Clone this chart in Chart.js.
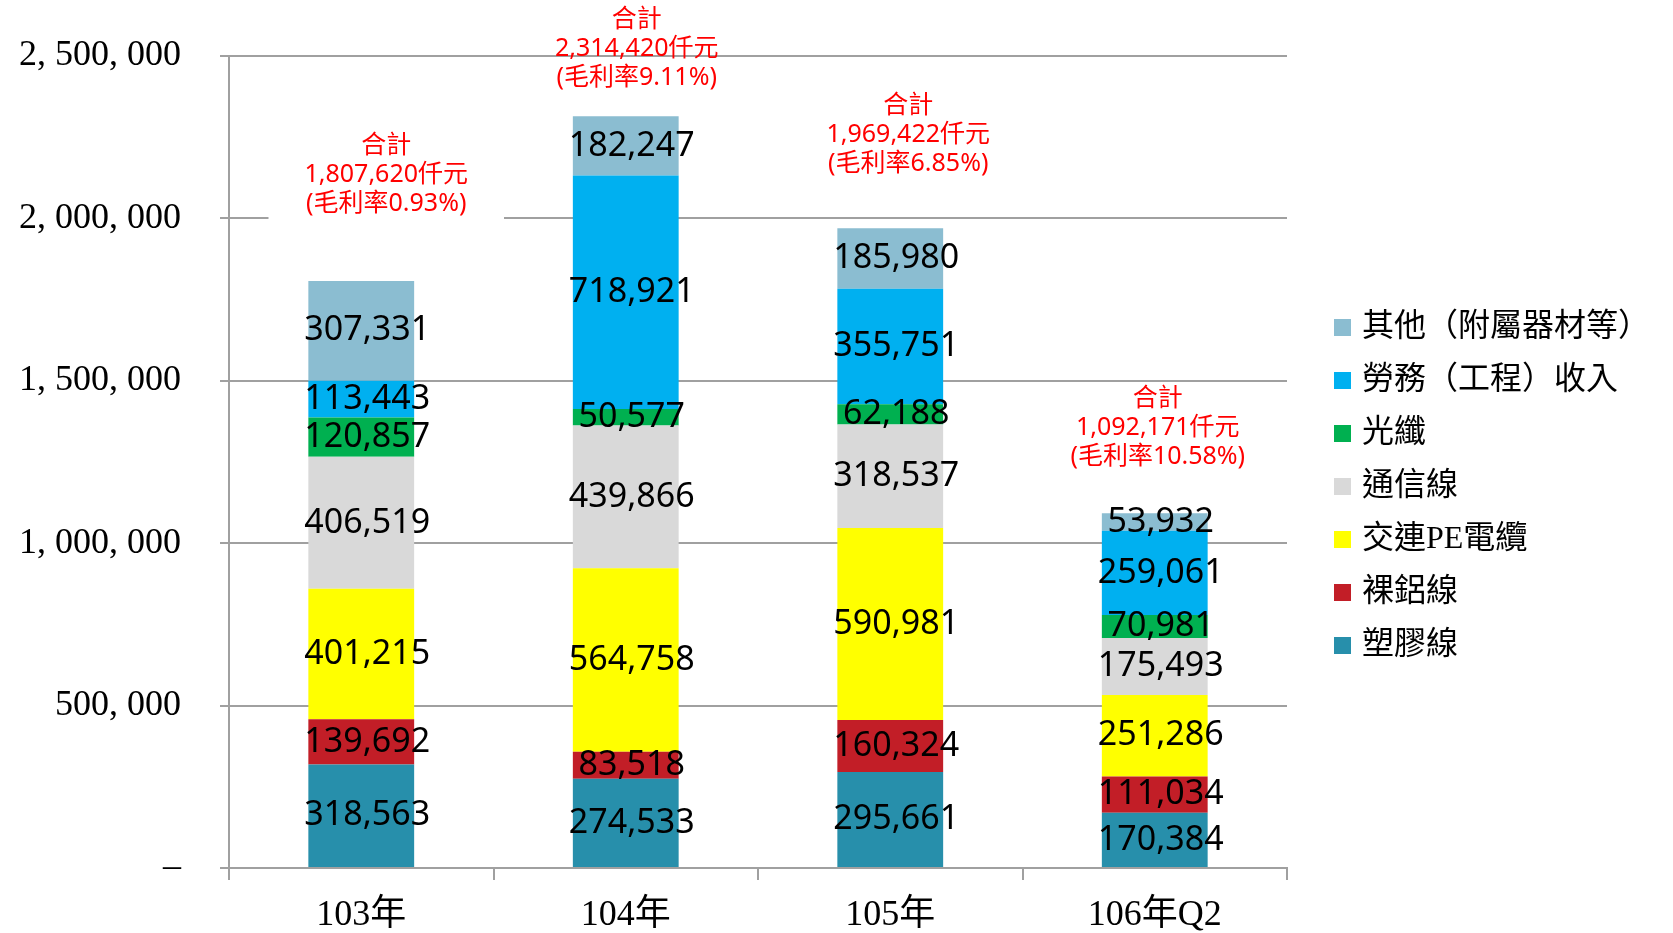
<!DOCTYPE html>
<html>
<head>
<meta charset="utf-8">
<script src="https://cdn.jsdelivr.net/npm/chart.js@4/dist/chart.umd.min.js"></script>
<style>
  body { margin: 0; background: #fff; }
  #wrap { width: 1673px; height: 933px; }
</style>
</head>
<body>
<div id="wrap"><canvas id="salesChart" width="1673" height="933"></canvas></div>
<script>
// Categories and series values (仟元)
const categories = ['103年', '104年', '105年', '106年Q2'];
const plastic = [318563, 274533, 295661, 170384];      // 塑膠線
const bareAl = [139692, 83518, 160324, 111034];        // 裸鋁線
const xlpe = [401215, 564758, 590981, 251286];         // 交連PE電纜
const telecom = [406519, 439866, 318537, 175493];      // 通信線
const fiber = [120857, 50577, 62188, 70981];           // 光纖
const service = [113443, 718921, 355751, 259061];      // 勞務(工程)收入
const others = [307331, 182247, 185980, 53932];        // 其他(附屬器材等)
const grossMargin = [0.93, 9.11, 6.85, 10.58];         // 毛利率 %
const yTicks = [0, 500000, 1000000, 1500000, 2000000, 2500000];

const GRID = '#A0A0A0';
const SANS = "'Noto Sans', 'Noto Sans CJK TC', sans-serif";
const SERIF = "'Liberation Serif', 'Noto Sans CJK TC', serif";

// Format a y tick like the original: "2, 500, 000" and a dash for zero
function yTickLabel(value) {
    if (value === 0) return '–';
    return value.toLocaleString('en-US').replace(/,/g, ', ');
}

// Draws the value in each segment, the red total notes and the legend
const notesPlugin = {
    id: 'notes',
    afterDatasetsDraw(chart, args, opts) {
        const ctx = chart.ctx;
        ctx.save();
        ctx.textAlign = 'center';
        ctx.textBaseline = 'middle';

        // segment values
        ctx.font = '34px ' + SANS;
        ctx.fillStyle = '#000';
        chart.data.datasets.forEach((ds, di) => {
            chart.getDatasetMeta(di).data.forEach((bar, i) => {
                const mid = (bar.y + bar.base) / 2;
                ctx.fillText(ds.data[i].toLocaleString('en-US'), bar.x + 6, mid);
            });
        });

        // totals above each bar
        const top = chart.data.datasets.length - 1;
        const topBars = chart.getDatasetMeta(top).data;
        ctx.font = '25px ' + SANS;
        categories.forEach((c, i) => {
            const total = chart.data.datasets.reduce((s, ds) => s + ds.data[i], 0);
            const lines = ['合計', total.toLocaleString('en-US') + '仟元', '(毛利率' + grossMargin[i].toFixed(2) + '%)'];
            const x = topBars[i].x + opts.dx[i];
            const lastY = topBars[i].y - opts.lift[i];
            const firstY = lastY - 2 * opts.lineGap;
            // white backing box hides the gridline behind the first note
            const pad = opts.boxPad[i];
            if (pad !== null) {
                const w = Math.max(...lines.map(l => ctx.measureText(l).width));
                ctx.fillStyle = '#fff';
                ctx.fillRect(x - w / 2 - pad, firstY - 16, w + pad * 2, lastY - firstY + 38);
            }
            ctx.fillStyle = '#FF0000';
            lines.forEach((l, k) => ctx.fillText(l, x, firstY + k * opts.lineGap));
        });
        ctx.restore();
    },
    afterDraw(chart, args, opts) {
        // legend on the right, last series first
        const ctx = chart.ctx;
        ctx.save();
        ctx.font = '32px ' + SERIF;
        ctx.textAlign = 'left';
        ctx.textBaseline = 'middle';
        const items = chart.data.datasets.slice().reverse();
        const x0 = chart.chartArea.right + 47;
        items.forEach((ds, k) => {
            const y = opts.legendTop + k * opts.legendGap;
            ctx.fillStyle = ds.backgroundColor;
            ctx.fillRect(x0, y - 8, 17, 17);
            ctx.fillStyle = '#000';
            ctx.fillText(ds.label, x0 + 28, y + 1);
        });
        ctx.restore();
    }
};

const ctx = document.getElementById('salesChart').getContext('2d');
const chart = new Chart(ctx, {
    type: 'bar',
    data: {
        labels: categories,
        datasets: [
            { label: '塑膠線', data: plastic, backgroundColor: '#278FAB' },
            { label: '裸鋁線', data: bareAl, backgroundColor: '#C21E27' },
            { label: '交連PE電纜', data: xlpe, backgroundColor: '#FFFF00' },
            { label: '通信線', data: telecom, backgroundColor: '#D9D9D9' },
            { label: '光纖', data: fiber, backgroundColor: '#00B050' },
            { label: '勞務（工程）收入', data: service, backgroundColor: '#00B0F0' },
            { label: '其他（附屬器材等）', data: others, backgroundColor: '#8BBDD1' }
        ]
    },
    options: {
        responsive: false,
        animation: false,
        layout: { padding: { left: 0, right: 386, top: 56, bottom: 0 } },
        datasets: {
            bar: { barPercentage: 0.4, categoryPercentage: 1.0, borderWidth: 0 }
        },
        plugins: {
            legend: { display: false },
            tooltip: { enabled: false },
            notes: {
                dx: [25, 11, 18, 3],
                lift: [77, 38, 64, 56],
                boxPad: [36, null, null, null],
                lineGap: 29,
                legendTop: 327,
                legendGap: 53
            }
        },
        scales: {
            x: {
                stacked: true,
                grid: { offset: true, drawOnChartArea: false, color: GRID, lineWidth: 2, tickLength: 12 },
                border: { color: GRID, width: 2 },
                ticks: { color: '#000', font: { family: SERIF, size: 36 }, padding: 14 },
                afterFit: scale => { scale.height = 65; }
            },
            y: {
                stacked: true,
                min: 0,
                max: 2500000,
                afterBuildTicks: scale => { scale.ticks = yTicks.map(v => ({ value: v })); },
                grid: { color: GRID, lineWidth: 2, tickLength: 9 },
                border: { color: GRID, width: 2 },
                ticks: { color: '#000', font: { family: SERIF, size: 36 }, padding: 39, callback: yTickLabel },
                // fixed width; the large tick padding should not push the plot down
                afterFit: scale => {
                    scale.width = 229;
                    scale.paddingTop = 0;
                    scale.paddingBottom = 0;
                }
            }
        }
    },
    plugins: [notesPlugin]
});
</script>
</body>
</html>
